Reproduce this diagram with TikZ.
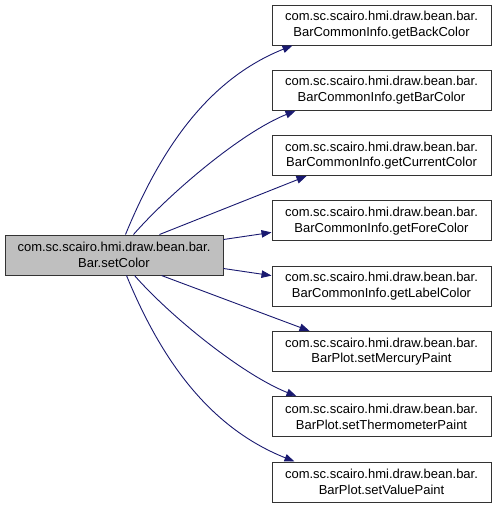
\documentclass[tikz,border=0pt]{standalone}
\usepackage{fontspec}
\setmainfont{Liberation Sans}
\usetikzlibrary{arrows.meta}
\definecolor{edgeblue}{RGB}{25,25,112}
\definecolor{srcgray}{RGB}{191,191,191}
\begin{document}
\begin{tikzpicture}[x=1pt,y=-1pt,
  box/.style={draw=black!80,line width=1pt,fill=white,minimum width=219pt,minimum height=40pt,inner sep=0pt,align=center,font=\fontsize{13}{15.5}\selectfont},
  srcbox/.style={box,fill=srcgray,minimum width=218pt},
  conn/.style={draw=edgeblue,line width=0.9pt,-{Triangle[length=10pt,width=7.5pt]}}]
\useasboundingbox (0,0) rectangle (496,509);
\node[srcbox] (src) at (114,255) {com.sc.scairo.hmi.draw.bean.bar.\\Bar.setColor};
\node[box] (n1) at (381.5,25) {com.sc.scairo.hmi.draw.bean.bar.\\BarCommonInfo.getBackColor};
\node[box] (n2) at (381.5,90.3) {com.sc.scairo.hmi.draw.bean.bar.\\BarCommonInfo.getBarColor};
\node[box] (n3) at (381.5,155.6) {com.sc.scairo.hmi.draw.bean.bar.\\BarCommonInfo.getCurrentColor};
\node[box] (n4) at (381.5,220.9) {com.sc.scairo.hmi.draw.bean.bar.\\BarCommonInfo.getForeColor};
\node[box] (n5) at (381.5,286.1) {com.sc.scairo.hmi.draw.bean.bar.\\BarCommonInfo.getLabelColor};
\node[box] (n6) at (381.5,351.4) {com.sc.scairo.hmi.draw.bean.bar.\\BarPlot.setMercuryPaint};
\node[box] (n7) at (381.5,416.7) {com.sc.scairo.hmi.draw.bean.bar.\\BarPlot.setThermometerPaint};
\node[box] (n8) at (381.5,482) {com.sc.scairo.hmi.draw.bean.bar.\\BarPlot.setValuePaint};
\path[conn] ([xshift=121pt]src.north west) .. controls +(35,-85) and +(-85,34) .. ([xshift=21pt]n1.south west);
\path[conn] ([xshift=129pt]src.north west) .. controls +(35,-40) and +(-55,22) .. ([xshift=24pt]n2.south west);
\path[conn] ([xshift=155pt]src.north west) -- ([xshift=35pt]n3.south west);
\path[conn] ([yshift=-5pt]src.north east) -- ([yshift=-32pt]n4.north west);
\path[conn] ([yshift=7pt]src.south east) -- ([yshift=-10pt]n5.north west);
\path[conn] ([xshift=157pt]src.south west) -- ([xshift=38pt]n6.north west);
\path[conn] ([xshift=130pt]src.south west) .. controls +(35,40) and +(-55,-22) .. ([xshift=25pt]n7.north west);
\path[conn] ([xshift=122pt]src.south west) .. controls +(35,85) and +(-85,-34) .. ([xshift=23pt]n8.north west);
\end{tikzpicture}
\end{document}
